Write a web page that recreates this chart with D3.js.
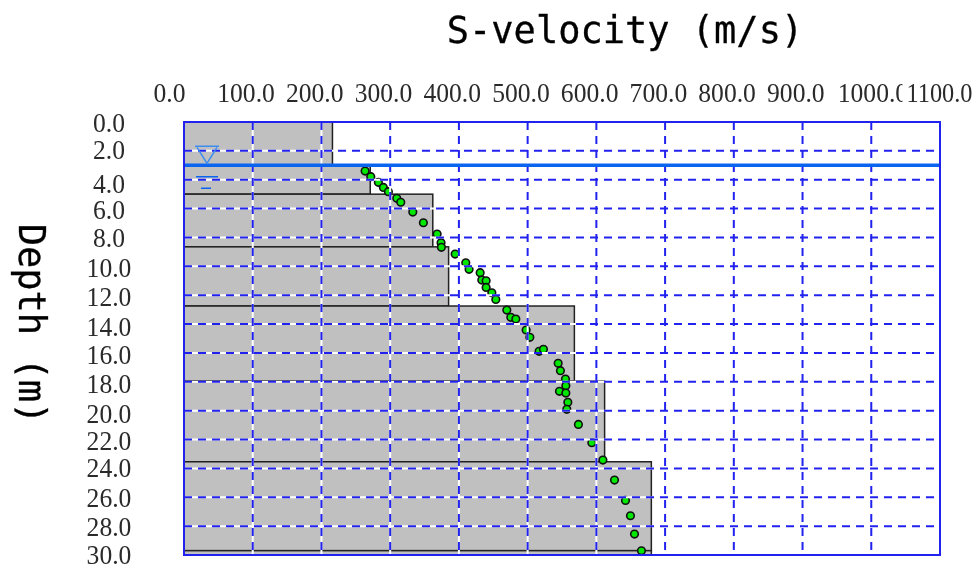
<!DOCTYPE html>
<html>
<head>
<meta charset="utf-8">
<script src="https://cdn.jsdelivr.net/npm/d3@7"></script>
<style>
  html, body { margin: 0; padding: 0; background: #fff; }
  svg { display: block; filter: blur(0.4px); }
  .tick-label { font-family: "Liberation Serif", serif; font-size: 28px; fill: #2a2a2a; }
  .axis-title { font-family: "DejaVu Sans Mono", monospace; font-size: 37px; fill: #000; stroke: #000; stroke-width: 0.3px; }
</style>
</head>
<body>
<svg id="chart" width="978" height="566"></svg>
<script>
// S-velocity layer model
const layerTop = [0, 3.0, 5.0, 8.65, 12.75, 17.95, 23.54, 29.7];
const layerBottom = [3.0, 5.0, 8.65, 12.75, 17.95, 23.54, 29.7, 30];
const layerVelocity = [216, 271, 362, 385, 568, 612, 680, 680];

// measured points
const pointVelocity = [263.5, 271.8, 282.8, 290.1, 297.4, 309.6, 315.4, 332.9, 348.3, 368.3, 374, 374.5,
  394.5, 410, 414.8, 430.9, 433.3, 439.6, 439.6, 447.9, 453.7, 469.7, 475.5, 482.8, 497.8, 503.2, 516.7,
  523, 544.4, 547.7, 555, 555.6, 546.3, 555.6, 558.5, 557, 573.9, 593.4, 609.5, 626.4, 642.4, 649.6, 655.5, 665.6];
const pointDepth = [3.4, 3.79, 4.18, 4.53, 4.83, 5.29, 5.56, 6.24, 6.98, 7.76, 8.36, 8.68,
  9.15, 9.75, 10.21, 10.44, 10.95, 11.0, 11.46, 11.83, 12.29, 13.03, 13.53, 13.65, 14.41, 14.92, 15.89,
  15.75, 16.72, 17.23, 17.81, 18.27, 18.66, 18.78, 19.42, 19.91, 20.95, 22.22, 23.42, 24.81, 26.22, 27.28, 28.55, 29.71];

const velocityTicks = [0, 100, 200, 300, 400, 500, 600, 700, 800, 900, 1000, 1100];
const depthTicks = [0, 2, 4, 6, 8, 10, 12, 14, 16, 18, 20, 22, 24, 26, 28, 30];
const waterDepth = 3.0;

const plot = {left: 184, right: 940, top: 122, bottom: 555};
const svg = d3.select('#chart');
const fmt = d3.format('.1f');

const x = d3.scaleLinear().domain([0, 1100]).range([plot.left, plot.right]);
const y = d3.scaleLinear().domain([0, 30]).range([plot.top, plot.bottom]);

// label width from the count of characters, reference glyphs are narrow and tall
const labelWidth = d => (d === 1100 ? 66 : (fmt(d).length - 2) * 12.8 + 19.2);

// Adding layers
svg.append('g').selectAll('rect').data(layerVelocity).enter().append('rect')
  .attr('x', x(0))
  .attr('y', (d, i) => y(layerTop[i]))
  .attr('width', d => x(d) - x(0))
  .attr('height', (d, i) => y(layerBottom[i]) - y(layerTop[i]))
  .attr('fill', '#c0c0c0')
  .attr('stroke', '#222')
  .attr('stroke-width', 1.5);

// Points go under the grid, the grid cuts through them
svg.append('g').selectAll('circle').data(pointVelocity).enter().append('circle')
  .attr('cx', d => x(d))
  .attr('cy', (d, i) => y(pointDepth[i]))
  .attr('r', 3.8)
  .attr('fill', '#00e800')
  .attr('stroke', '#111')
  .attr('stroke-width', 1.6);

// Grid: white line underneath so the gaps show on the gray
const gridX = velocityTicks.slice(1, -1);
const gridY = depthTicks.slice(1, -1);
const grid = svg.append('g');
[['#fff', 'none'], ['#2222ee', '8 6']].forEach(([color, dash]) => {
  grid.append('g').selectAll('line').data(gridX).enter().append('line')
    .attr('x1', d => x(d)).attr('x2', d => x(d))
    .attr('y1', plot.top).attr('y2', plot.bottom)
    .attr('stroke', color).attr('stroke-width', 2).attr('stroke-dasharray', dash);
  grid.append('g').selectAll('line').data(gridY).enter().append('line')
    .attr('x1', plot.left).attr('x2', plot.right)
    .attr('y1', d => y(d)).attr('y2', d => y(d))
    .attr('stroke', color).attr('stroke-width', 2).attr('stroke-dasharray', dash);
});

// Water table
const waterColor = '#0a64f0';
svg.append('line')
  .attr('x1', plot.left).attr('x2', plot.right)
  .attr('y1', y(waterDepth)).attr('y2', y(waterDepth))
  .attr('stroke', waterColor).attr('stroke-width', 3.5);
const wx = 207, wy = y(waterDepth);
svg.append('path')
  .attr('d', `M${wx - 12},${wy - 19}H${wx + 12}M${wx - 10},${wy - 18}L${wx},${wy - 2}L${wx + 10},${wy - 18}`)
  .attr('fill', 'none').attr('stroke', '#3c8cf0').attr('stroke-width', 1.5);
svg.append('path')
  .attr('d', `M${wx - 11},${wy + 11.5}H${wx + 11}M${wx - 6},${wy + 23}H${wx + 4}`)
  .attr('fill', 'none').attr('stroke', waterColor).attr('stroke-width', 1.5);

// Frame
svg.append('rect')
  .attr('x', plot.left).attr('y', plot.top)
  .attr('width', plot.right - plot.left).attr('height', plot.bottom - plot.top)
  .attr('fill', 'none').attr('stroke', '#2222ee').attr('stroke-width', 2);

// Axes, no lines or tick marks, only labels
const xAxis = svg.append('g')
  .attr('transform', `translate(0,${plot.top})`)
  .call(d3.axisTop(x).tickValues(velocityTicks).tickFormat(fmt).tickSize(0));
xAxis.select('.domain').remove();
xAxis.selectAll('text')
  .attr('class', 'tick-label')
  .attr('text-anchor', 'start')
  .attr('x', d => (d === 0 ? -31 : d >= 1000 ? -34 : -36))
  .attr('y', -20)
  .attr('textLength', labelWidth)
  .attr('lengthAdjust', 'spacingAndGlyphs');

// the last label paints over the end of 1000.0
xAxis.selectAll('.tick').filter(d => d === 1100)
  .insert('rect', 'text')
  .attr('x', -38).attr('y', -42).attr('width', 76).attr('height', 26).attr('fill', '#fff');

// labels in the reference do not sit evenly on the grid
const labelShift = {2: -2, 4: 3, 10: 1, 12: 1, 14: 2, 16: 1, 18: 1, 20: 2, 24: -1, 30: -1};
const yAxis = svg.append('g')
  .attr('transform', `translate(${plot.left},0)`)
  .call(d3.axisLeft(y).tickValues(depthTicks).tickFormat(fmt).tickSize(0));
yAxis.select('.domain').remove();
yAxis.selectAll('text')
  .attr('class', 'tick-label')
  .attr('text-anchor', 'middle')
  .attr('x', -75)
  .attr('dy', null)
  .attr('y', d => (labelShift[d] || 0) + 9.5)
  .attr('textLength', labelWidth)
  .attr('lengthAdjust', 'spacingAndGlyphs');

// Titles
svg.append('text').attr('class', 'axis-title')
  .attr('x', 625).attr('y', 43).attr('text-anchor', 'middle')
  .text('S-velocity (m/s)');
svg.append('text').attr('class', 'axis-title')
  .attr('transform', 'translate(19,324) rotate(90)')
  .attr('text-anchor', 'middle')
  .text('Depth (m)');
</script>
</body>
</html>
